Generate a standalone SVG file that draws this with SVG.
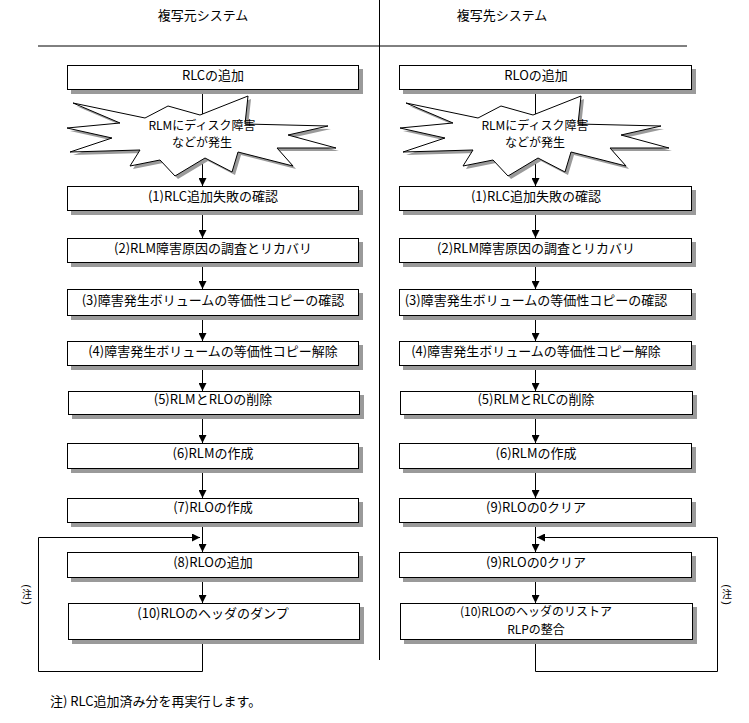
<svg xmlns="http://www.w3.org/2000/svg" width="749" height="723" viewBox="0 0 749 723">
<style>
text{font-family:"Noto Sans CJK JP","Liberation Sans",sans-serif;font-size:13px;fill:#000}
.t{text-anchor:middle}
.m{font-size:12px}
.box{fill:#fff;stroke:#000;stroke-width:1}
.sh{fill:#9a9a9a}
.ln{fill:none;stroke:#000;stroke-width:1}
.nc{text-anchor:middle;font-size:10px}
.np{font-family:"Liberation Sans",sans-serif;text-anchor:middle;dominant-baseline:central;font-size:11px}
</style>
<defs>
<marker id="ah" viewBox="0 0 8 8" refX="8" refY="4" markerWidth="8" markerHeight="8" markerUnits="userSpaceOnUse" orient="auto">
<path d="M0,0 L8,4 L0,8 z" fill="#000"/>
</marker>
<polygon id="star" points="73,103 145,118 168,106 200,115 248,96 245,124 328,126 288,135 336,148 277,148 293,166 238,152 232,172 205,158 175,176 160,160 130,166 140,150 70,152 112,138 67,128 120,123"/>
</defs>
<rect width="749" height="723" fill="#fff"/>
<g id="frame" class="ln">
<line x1="38" y1="46" x2="687" y2="46"/>
<line x1="379.5" y1="0" x2="379.5" y2="660"/>
</g>
<text class="t" x="203" y="20">複写元システム</text>
<text class="t" x="502" y="20">複写先システム</text>

<g id="connectors" class="ln">
<line x1="202.5" y1="90" x2="202.5" y2="186" marker-end="url(#ah)"/>
<line x1="202.5" y1="211" x2="202.5" y2="238" marker-end="url(#ah)"/>
<line x1="202.5" y1="263" x2="202.5" y2="289" marker-end="url(#ah)"/>
<line x1="202.5" y1="316" x2="202.5" y2="341" marker-end="url(#ah)"/>
<line x1="202.5" y1="366" x2="202.5" y2="391" marker-end="url(#ah)"/>
<line x1="202.5" y1="415" x2="202.5" y2="443" marker-end="url(#ah)"/>
<line x1="202.5" y1="469" x2="202.5" y2="498" marker-end="url(#ah)"/>
<line x1="202.5" y1="523" x2="202.5" y2="552" marker-end="url(#ah)"/>
<line x1="202.5" y1="578" x2="202.5" y2="603" marker-end="url(#ah)"/>
<polyline points="202.5,640 202.5,671.5 38.5,671.5 38.5,537.5 200,537.5" marker-end="url(#ah)"/>

<line x1="535.5" y1="90" x2="535.5" y2="186" marker-end="url(#ah)"/>
<line x1="535.5" y1="211" x2="535.5" y2="238" marker-end="url(#ah)"/>
<line x1="535.5" y1="263" x2="535.5" y2="289" marker-end="url(#ah)"/>
<line x1="535.5" y1="316" x2="535.5" y2="341" marker-end="url(#ah)"/>
<line x1="535.5" y1="366" x2="535.5" y2="391" marker-end="url(#ah)"/>
<line x1="535.5" y1="415" x2="535.5" y2="443" marker-end="url(#ah)"/>
<line x1="535.5" y1="469" x2="535.5" y2="498" marker-end="url(#ah)"/>
<line x1="535.5" y1="523" x2="535.5" y2="552" marker-end="url(#ah)"/>
<line x1="535.5" y1="578" x2="535.5" y2="603" marker-end="url(#ah)"/>
<polyline points="535.5,640 535.5,671.5 717.5,671.5 717.5,537.5 537,537.5" marker-end="url(#ah)"/>
</g>

<g id="L0"><rect class="sh" x="71" y="69" width="292" height="25"/><rect class="box" x="67.5" y="65.5" width="291" height="24"/><text class="t" x="213" y="80">RLCの追加</text></g>
<g id="Lstar"><use href="#star" transform="translate(3,3)" class="sh"/><use href="#star" fill="#fff" stroke="#000"/><text class="t m" x="202" y="130">RLMにディスク障害</text><text class="t m" x="202" y="147">などが発生</text></g>
<g id="L1"><rect class="sh" x="71" y="190" width="292" height="25"/><rect class="box" x="67.5" y="186.5" width="291" height="24"/><text class="t" x="213" y="201">(1)RLC追加失敗の確認</text></g>
<g id="L2"><rect class="sh" x="71" y="242" width="292" height="25"/><rect class="box" x="67.5" y="238.5" width="291" height="24"/><text class="t" x="213" y="253">(2)RLM障害原因の調査とリカバリ</text></g>
<g id="L3"><rect class="sh" x="71" y="293" width="292" height="27"/><rect class="box" x="67.5" y="289.5" width="291" height="26"/><text class="t" x="213" y="305">(3)障害発生ボリュームの等価性コピーの確認</text></g>
<g id="L4"><rect class="sh" x="71" y="345" width="292" height="25"/><rect class="box" x="67.5" y="341.5" width="291" height="24"/><text class="t" x="213" y="356">(4)障害発生ボリュームの等価性コピー解除</text></g>
<g id="L5"><rect class="sh" x="72" y="395" width="292" height="24"/><rect class="box" x="68.5" y="391.5" width="291" height="23"/><text class="t" x="213" y="404">(5)RLMとRLOの削除</text></g>
<g id="L6"><rect class="sh" x="71" y="447" width="292" height="26"/><rect class="box" x="67.5" y="443.5" width="291" height="25"/><text class="t" x="213" y="458">(6)RLMの作成</text></g>
<g id="L7"><rect class="sh" x="71" y="502" width="292" height="25"/><rect class="box" x="67.5" y="498.5" width="291" height="24"/><text class="t" x="213" y="512">(7)RLOの作成</text></g>
<g id="L8"><rect class="sh" x="71" y="556" width="292" height="26"/><rect class="box" x="67.5" y="552.5" width="291" height="25"/><text class="t" x="213" y="567">(8)RLOの追加</text></g>
<g id="L10"><rect class="sh" x="72" y="607" width="292" height="37"/><rect class="box" x="68.5" y="603.5" width="291" height="36"/><text class="t" x="213" y="618">(10)RLOのヘッダのダンプ</text></g>

<g id="R0"><rect class="sh" x="403" y="69" width="293" height="25"/><rect class="box" x="399.5" y="65.5" width="292" height="24"/><text class="t" x="536" y="80">RLOの追加</text></g>
<g id="Rstar"><use href="#star" transform="translate(336,3)" class="sh"/><use href="#star" transform="translate(333,0)" fill="#fff" stroke="#000"/><text class="t m" x="535" y="130">RLMにディスク障害</text><text class="t m" x="535" y="147">などが発生</text></g>
<g id="R1"><rect class="sh" x="403" y="190" width="293" height="25"/><rect class="box" x="399.5" y="186.5" width="292" height="24"/><text class="t" x="536" y="201">(1)RLC追加失敗の確認</text></g>
<g id="R2"><rect class="sh" x="403" y="242" width="293" height="25"/><rect class="box" x="399.5" y="238.5" width="292" height="24"/><text class="t" x="536" y="253">(2)RLM障害原因の調査とリカバリ</text></g>
<g id="R3"><rect class="sh" x="403" y="293" width="293" height="27"/><rect class="box" x="399.5" y="289.5" width="292" height="26"/><text class="t" x="536" y="305">(3)障害発生ボリュームの等価性コピーの確認</text></g>
<g id="R4"><rect class="sh" x="403" y="345" width="293" height="25"/><rect class="box" x="399.5" y="341.5" width="292" height="24"/><text class="t" x="536" y="356">(4)障害発生ボリュームの等価性コピー解除</text></g>
<g id="R5"><rect class="sh" x="404" y="395" width="293" height="24"/><rect class="box" x="400.5" y="391.5" width="292" height="23"/><text class="t" x="536" y="404">(5)RLMとRLCの削除</text></g>
<g id="R6"><rect class="sh" x="403" y="447" width="293" height="26"/><rect class="box" x="399.5" y="443.5" width="292" height="25"/><text class="t" x="536" y="458">(6)RLMの作成</text></g>
<g id="R9a"><rect class="sh" x="403" y="502" width="293" height="25"/><rect class="box" x="399.5" y="498.5" width="292" height="24"/><text class="t" x="536" y="512">(9)RLOの0クリア</text></g>
<g id="R9b"><rect class="sh" x="403" y="556" width="293" height="26"/><rect class="box" x="399.5" y="552.5" width="292" height="25"/><text class="t" x="536" y="567">(9)RLOの0クリア</text></g>
<g id="R10"><rect class="sh" x="404" y="607" width="293" height="37"/><rect class="box" x="400.5" y="603.5" width="292" height="36"/><text class="t m" x="536" y="616">(10)RLOのヘッダのリストア</text><text class="t m" x="536" y="634">RLPの整合</text></g>

<g id="noteL"><text class="np" transform="rotate(90 27 586)" x="27" y="586">(</text><text class="nc" x="27" y="598">注</text><text class="np" transform="rotate(90 27 603)" x="27" y="603">)</text></g>
<g id="noteR"><text class="np" transform="rotate(90 727 586)" x="727" y="586">(</text><text class="nc" x="727" y="598">注</text><text class="np" transform="rotate(90 727 603)" x="727" y="603">)</text></g>
<text x="50" y="706">注) RLC追加済み分を再実行します。</text>
</svg>
